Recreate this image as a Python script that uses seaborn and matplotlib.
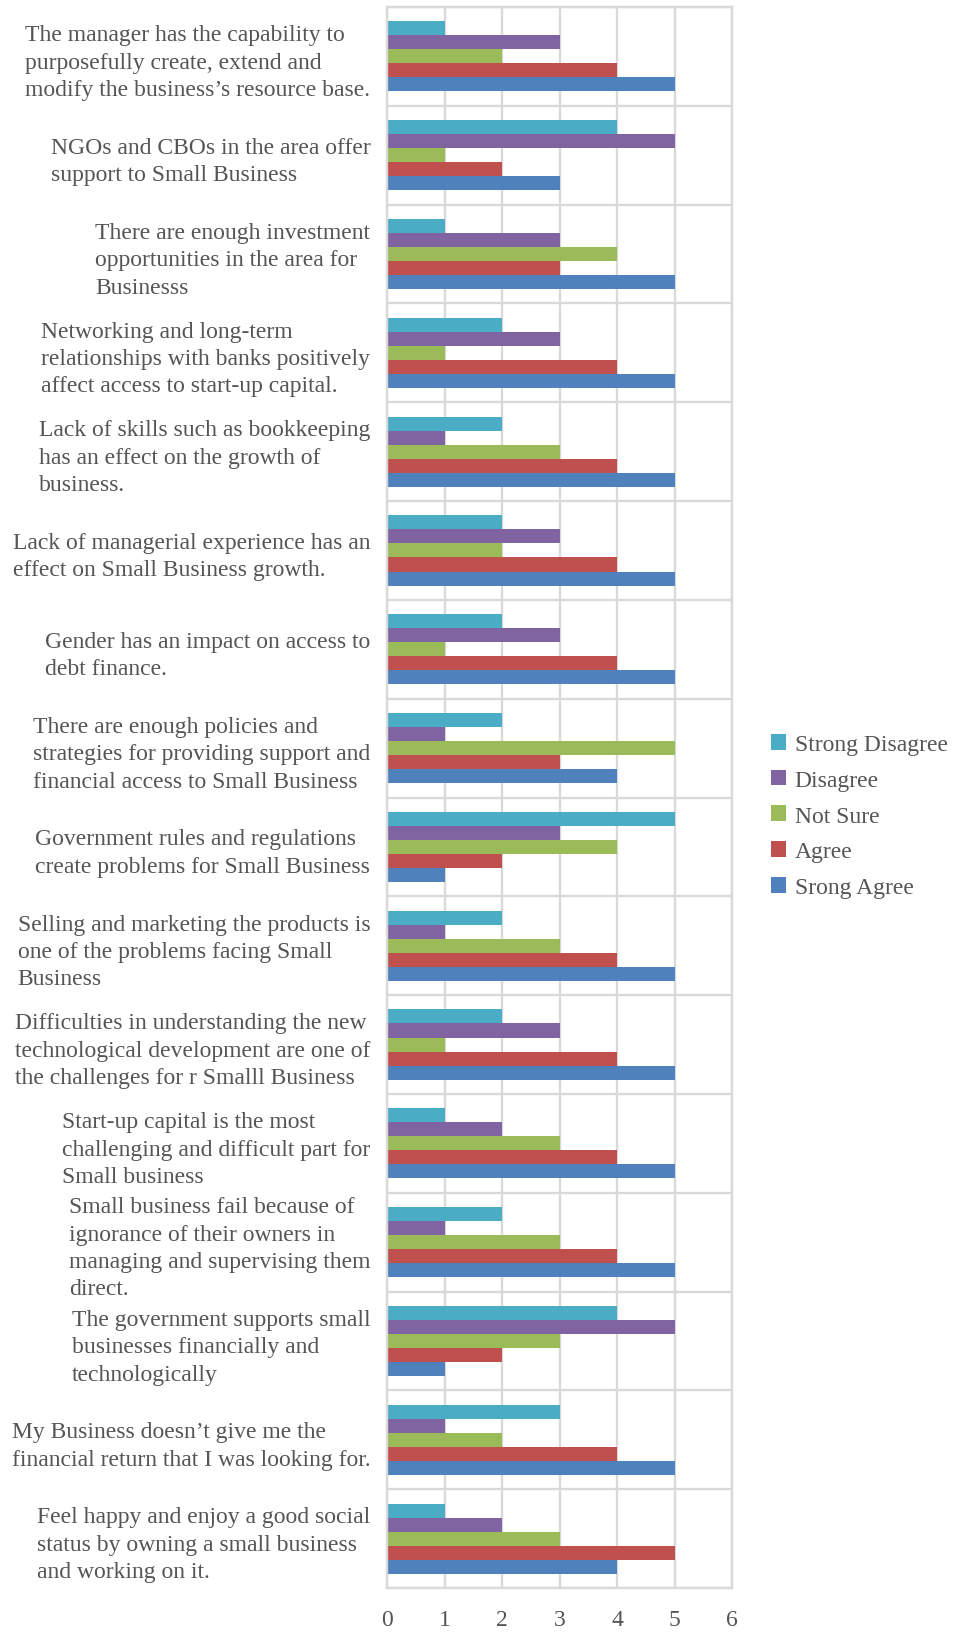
import numpy as np
import pandas as pd
import matplotlib
matplotlib.use("Agg")
import matplotlib.pyplot as plt
from matplotlib.patches import Patch
import seaborn as sns

# Survey statements (top to bottom)
statements = [
    "The manager has the capability to\npurposefully create, extend and\nmodify the business\u2019s resource base.",
    "NGOs and CBOs in the area offer\nsupport to Small Business",
    "There are enough investment\nopportunities in the area for\nBusinesss",
    "Networking and long-term\nrelationships with banks positively\naffect access to start-up capital.",
    "Lack of skills such as bookkeeping\nhas an effect on the growth of\nbusiness.",
    "Lack of managerial experience has an\neffect on Small Business growth.",
    "Gender has an impact on access to\ndebt finance.",
    "There are enough policies and\nstrategies for providing support and\nfinancial access to Small Business",
    "Government rules and regulations\ncreate problems for Small Business",
    "Selling and marketing the products is\none of the problems facing Small\nBusiness",
    "Difficulties in understanding the new\ntechnological development are one of\nthe challenges for r Smalll Business",
    "Start-up capital is the most\nchallenging and difficult part for\nSmall business",
    "Small business fail because of\nignorance of their owners in\nmanaging and supervising them\ndirect.",
    "The government supports small\nbusinesses financially and\ntechnologically",
    "My Business doesn\u2019t give me the\nfinancial return that I was looking for.",
    "Feel happy and enjoy a good social\nstatus by owning a small business\nand working on it.",
]

responses = ["Strong Disagree", "Disagree", "Not Sure", "Agree", "Srong Agree"]

strong_disagree = [1, 4, 1, 2, 2, 2, 2, 2, 5, 2, 2, 1, 2, 4, 3, 1]
disagree        = [3, 5, 3, 3, 1, 3, 3, 1, 3, 1, 3, 2, 1, 5, 1, 2]
not_sure        = [2, 1, 4, 1, 3, 2, 1, 5, 4, 3, 1, 3, 3, 3, 2, 3]
agree           = [4, 2, 3, 4, 4, 4, 4, 3, 2, 4, 4, 4, 4, 2, 4, 5]
strong_agree    = [5, 3, 5, 5, 5, 5, 5, 4, 1, 5, 5, 5, 5, 1, 5, 4]

colors = ["#4BACC6", "#8064A2", "#9BBB59", "#C0504D", "#4F81BD"]
xticks = [0, 1, 2, 3, 4, 5, 6]

series = [strong_disagree, disagree, not_sure, agree, strong_agree]
df = pd.DataFrame({
    "statement": np.tile(statements, len(responses)),
    "response": np.repeat(responses, len(statements)),
    "value": np.concatenate(series),
})

sns.set_style("white")
plt.rcParams["font.family"] = ["Liberation Serif", "DejaVu Serif"]
text_color = "#555555"
grid_color = "#d9d9d9"
fs = 17

fig = plt.figure(figsize=(9.54, 16.4), dpi=100)
ax = fig.add_axes([387 / 954, 1 - 1589 / 1640, (732 - 387) / 954, (1589 - 8) / 1640])

sns.barplot(
    data=df, x="value", y="statement", hue="response",
    order=statements, hue_order=responses, palette=colors,
    orient="h", width=0.71, saturation=1, linewidth=0,
    legend=False, ax=ax,
)

ax.set_xlim(0, 6)
ax.set_ylim(len(statements) - 0.5, -0.5)
ax.set_xticks(xticks)
ax.set_xticklabels([str(t) for t in xticks])
ax.set_yticks(range(len(statements)))
ax.set_yticklabels(statements)
ax.set_yticks(np.arange(-0.5, len(statements), 1), minor=True)
ax.set_xlabel("")
ax.set_ylabel("")

ax.set_axisbelow(True)
ax.grid(False)
ax.grid(axis="x", which="major", color=grid_color, linewidth=1.7)
ax.grid(axis="y", which="minor", color=grid_color, linewidth=1.7)
for sp in ax.spines.values():
    sp.set_color(grid_color)
    sp.set_linewidth(1.7)

ax.tick_params(axis="x", which="both", length=0, pad=15, labelsize=fs, labelcolor=text_color)
ax.tick_params(axis="y", which="both", length=0, pad=12, labelsize=fs, labelcolor=text_color)
for lbl in ax.get_yticklabels():
    lbl.set_multialignment("left")
    lbl.set_linespacing(1.4)

handles = [Patch(facecolor=c, edgecolor="none") for c in colors]
fig.legend(
    handles, responses, loc="center left",
    bbox_to_anchor=(771 / 954, 1 - 817 / 1640),
    frameon=False, fontsize=fs, labelcolor=text_color,
    handlelength=0.65, handleheight=0.65, handletextpad=0.35,
    labelspacing=0.62, borderpad=0, borderaxespad=0,
)

fig.savefig("out.png", dpi=100)
